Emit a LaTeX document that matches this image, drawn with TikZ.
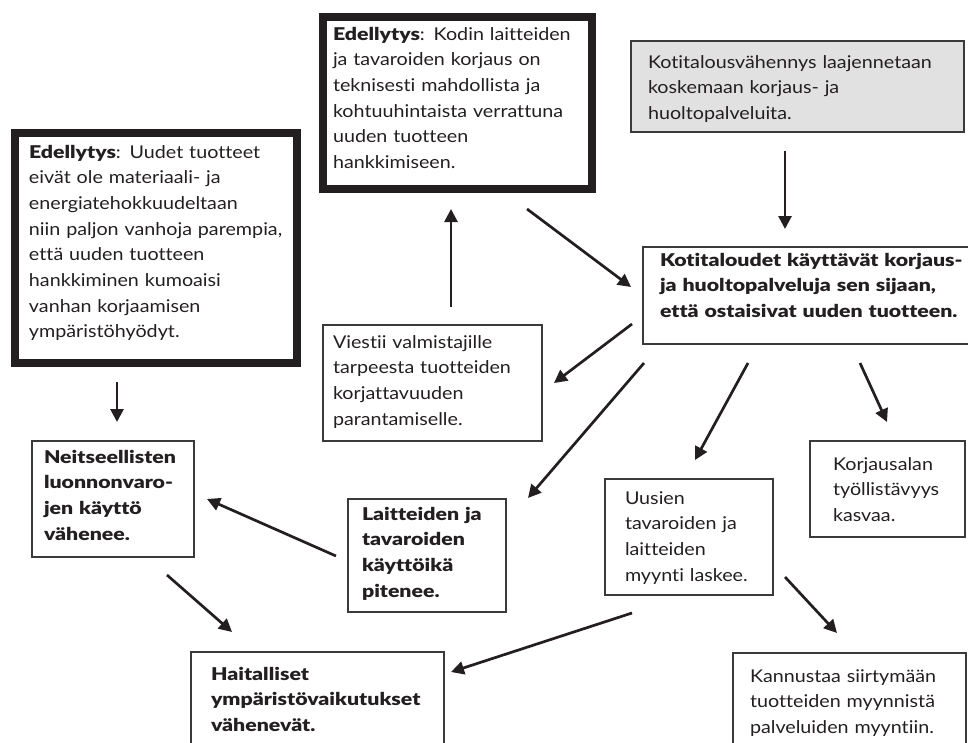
\documentclass[tikz,border=0pt]{standalone}
\usepackage{fontspec}
\setmainfont{Lato}[Ligatures=NoCommon, FakeStretch=1.12, BoldFont={Lato Black}, BoldFeatures={FakeStretch=1.21}]
\usetikzlibrary{arrows.meta}
\definecolor{ink}{HTML}{231F20}
\definecolor{boxline}{HTML}{3A3A3A}
\definecolor{boxgray}{HTML}{E1E1E1}
\newcommand\boxlines[1]{\begin{tabular}[t]{@{}l@{}}#1\end{tabular}}
\begin{document}
\begin{tikzpicture}[x=1pt,y=-1pt,
  every node/.style={font=\fontsize{17.6}{25.7}\selectfont, text=ink},
  boldtext/.style={font=\fontsize{17.6}{25.7}\selectfont\bfseries},
  box/.style={draw=boxline, line width=1.4pt, rectangle, anchor=north west,
    outer sep=0pt, inner ysep=0pt, align=left},
  heavybox/.style={box, draw=ink, line width=8pt},
  greybox/.style={box, fill=boxgray},
  arr/.style={-{Triangle[length=13pt,width=13pt]}, line width=2.7pt, draw=ink}]
\useasboundingbox (0,0) rectangle (968,742);
\clip (0,0) rectangle (968,742);

% boxes
\node[heavybox, inner xsep=14pt, text width=254pt, text height=25pt, text depth=205pt] (pre1) at (15,133)
  {\boxlines{\textbf{Edellytys}: Uudet tuotteet\\eivät ole materiaali- ja\\energiatehokkuudeltaan\\niin paljon vanhoja parempia,\\että uuden tuotteen\\hankkiminen kumoaisi\\vanhan korjaamisen\\ympäristöhyödyt.}};
\node[heavybox, inner xsep=10pt, text width=249pt, text height=23pt, text depth=149pt] (pre2) at (323,17)
  {\boxlines{\textbf{Edellytys}: Kodin laitteiden\\ja tavaroiden korjaus on\\teknisesti mahdollista ja\\kohtuuhintaista verrattuna\\uuden tuotteen\\hankkimiseen.}};
\node[greybox, inner xsep=17pt, text width=299pt, text height=27pt, text depth=64pt] (tax) at (631,41)
  {\boxlines{Kotitalousvähennys laajennetaan\\koskemaan korjaus- ja\\huoltopalveluita.}};
\node[box, boldtext, inner xsep=17pt, text width=306pt, text height=19pt, text depth=78pt] (kot) at (643,247)
  {\boxlines{Kotitaloudet käyttävät korjaus-\\ja huoltopalveluja sen sijaan,\\että ostaisivat uuden tuotteen.}};
\node[box, inner xsep=10pt, text width=199pt, text height=23pt, text depth=93pt] (viesti) at (323,325)
  {\boxlines{Viestii valmistajille\\tarpeesta tuotteiden\\korjattavuuden\\parantamiselle.}};
\node[box, boldtext, inner xsep=12pt, text width=138pt, text height=22pt, text depth=94pt] (neit) at (32,441)
  {\boxlines{Neitseellisten\\luonnonvaro-\\jen käyttö\\vähenee.}};
\node[box, boldtext, inner xsep=14pt, text width=130pt, text height=21pt, text depth=92pt] (lait) at (348,499)
  {\boxlines{Laitteiden ja\\tavaroiden\\käyttöikä\\pitenee.}};
\node[box, inner xsep=20pt, text width=128pt, text height=25pt, text depth=91pt] (uus) at (605,479)
  {\boxlines{Uusien\\tavaroiden ja\\laitteiden\\myynti laskee.}};
\node[box, inner xsep=23pt, text width=109pt, text height=29pt, text depth=67pt] (korj) at (810,441)
  {\boxlines{Korjausalan\\työllistävyys\\kasvaa.}};
\node[box, inner xsep=17pt, text width=199pt, text height=29pt, text depth=100pt] (kann) at (733,653)
  {\boxlines{Kannustaa siirtymään\\tuotteiden myynnistä\\palveluiden myyntiin.}};
\node[box, boldtext, inner xsep=20pt, text width=213pt, text height=28pt, text depth=100pt] (hait) at (191,652)
  {\boxlines{Haitalliset\\ympäristövaikutukset\\vähenevät.}};

% connector end points
\coordinate (a1s) at (451,307); \coordinate (a1e) at (451,209);
\coordinate (a2s) at (527,209); \coordinate (a2e) at (631,287);
\coordinate (a3s) at (785,151); \coordinate (a3e) at (785,229);
\coordinate (a4s) at (117,382); \coordinate (a4e) at (117,422);
\coordinate (a5s) at (632,324); \coordinate (a5e) at (554,383);
\coordinate (a6s) at (644,363); \coordinate (a6e) at (528,498);
\coordinate (a7s) at (748,363); \coordinate (a7e) at (695,460);
\coordinate (a8s) at (860,363); \coordinate (a8e) at (887,422);
\coordinate (a9s) at (785,577); \coordinate (a9e) at (837,633);
\coordinate (a10s) at (632,613); \coordinate (a10e) at (451,672);
\coordinate (a11s) at (336,556); \coordinate (a11e) at (207,499);
\coordinate (a12s) at (167,575); \coordinate (a12e) at (232,632);

\foreach \i in {1,...,12} {\draw[arr] (a\i s) -- (a\i e);}
\end{tikzpicture}
\end{document}
